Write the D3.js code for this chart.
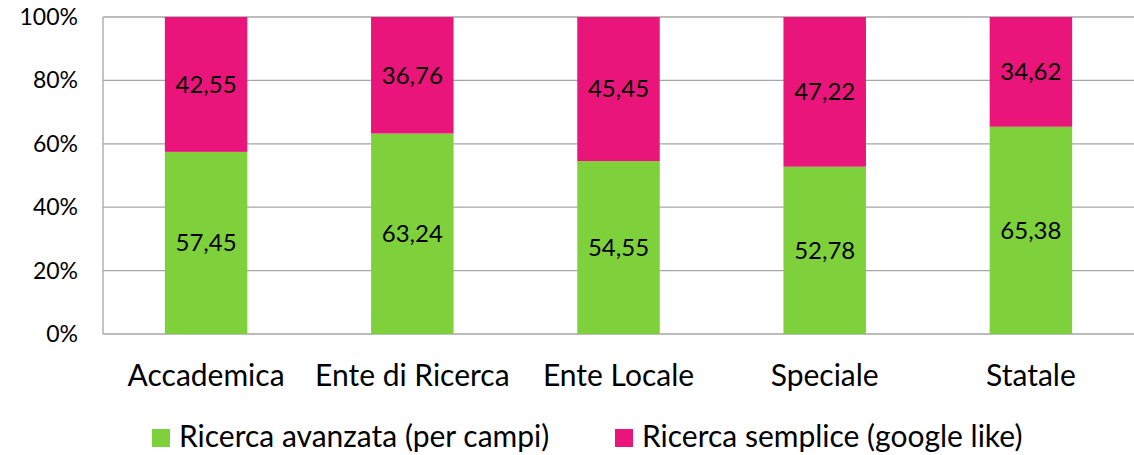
<!DOCTYPE html>
<html>
<head>
<meta charset="utf-8">
<script src="https://cdn.jsdelivr.net/npm/d3@7"></script>
<style>
  body { margin: 0; background: #fff; }
  text { font-family: Lato, "Open Sans", sans-serif; fill: #000; }
</style>
</head>
<body>
<svg id="chart" width="1134" height="455"></svg>
<script>
// data
const categories = ["Accademica", "Ente di Ricerca", "Ente Locale", "Speciale", "Statale"];
const avanzata = [57.45, 63.24, 54.55, 52.78, 65.38];
const semplice = [42.55, 36.76, 45.45, 47.22, 34.62];
const seriesNames = ["Ricerca avanzata (per campi)", "Ricerca semplice (google like)"];
const yTicks = [0, 20, 40, 60, 80, 100];

const colors = ["#7fd13b", "#ea157a"];

const svg = d3.select("#chart");
const margin = { top: 17, right: 0, bottom: 121, left: 103 };
const width = 1134 - margin.left - margin.right;
const height = 455 - margin.top - margin.bottom;

const g = svg.append("g").attr("transform", `translate(${margin.left},${margin.top})`);

const x = d3.scaleBand().domain(categories).range([0, width]).paddingInner(0.6).paddingOuter(0.3);
const y = d3.scaleLinear().domain([0, 100]).range([height, 0]);

// gridlines
g.selectAll(".grid")
  .data(yTicks)
  .enter().append("line")
  .attr("x1", 0).attr("x2", width)
  .attr("y1", d => y(d)).attr("y2", d => y(d))
  .attr("stroke", "#a6a6a6").attr("stroke-width", 1.3);

g.append("line")
  .attr("x1", 0).attr("x2", 0).attr("y1", 0).attr("y2", height)
  .attr("stroke", "#a6a6a6").attr("stroke-width", 1.3);

// stacked bars
const rows = categories.map((c, i) => ({ cat: c, avanzata: avanzata[i], semplice: semplice[i] }));
const stack = d3.stack().keys(["avanzata", "semplice"]);
const series = stack(rows);

const layer = g.selectAll(".layer")
  .data(series)
  .enter().append("g")
  .attr("fill", (d, i) => colors[i]);

layer.selectAll("rect")
  .data(d => d)
  .enter().append("rect")
  .attr("x", d => x(d.data.cat))
  .attr("width", x.bandwidth())
  .attr("y", d => y(d[1]))
  .attr("height", d => y(d[0]) - y(d[1]));

layer.selectAll("text")
  .data(d => d)
  .enter().append("text")
  .attr("x", d => x(d.data.cat) + x.bandwidth() / 2)
  .attr("y", d => (y(d[0]) + y(d[1])) / 2)
  .attr("dy", "0.35em")
  .attr("text-anchor", "middle")
  .style("font-size", "24px")
  .text(d => d3.format(".2f")(d[1] - d[0]).replace(".", ","));

// y axis labels
g.selectAll(".ytick")
  .data(yTicks)
  .enter().append("text")
  .attr("x", -25)
  .attr("y", d => y(d))
  .attr("dy", "0.35em")
  .attr("text-anchor", "end")
  .style("font-size", "23px")
  .text(d => d + "%");

// x axis labels
g.selectAll(".xtick")
  .data(categories)
  .enter().append("text")
  .attr("x", d => x(d) + x.bandwidth() / 2)
  .attr("y", height + 52)
  .attr("text-anchor", "middle")
  .style("font-size", "30px")
  .text(d => d);

// legend
const legendX = [152, 615];
const legend = svg.selectAll(".legend")
  .data(seriesNames)
  .enter().append("g")
  .attr("transform", (d, i) => `translate(${legendX[i]},429)`);

legend.append("rect")
  .attr("width", 18).attr("height", 18)
  .attr("fill", (d, i) => colors[i]);

legend.append("text")
  .attr("x", 27)
  .attr("y", 18)
  .style("font-size", "30px")
  .text(d => d);
</script>
</body>
</html>
